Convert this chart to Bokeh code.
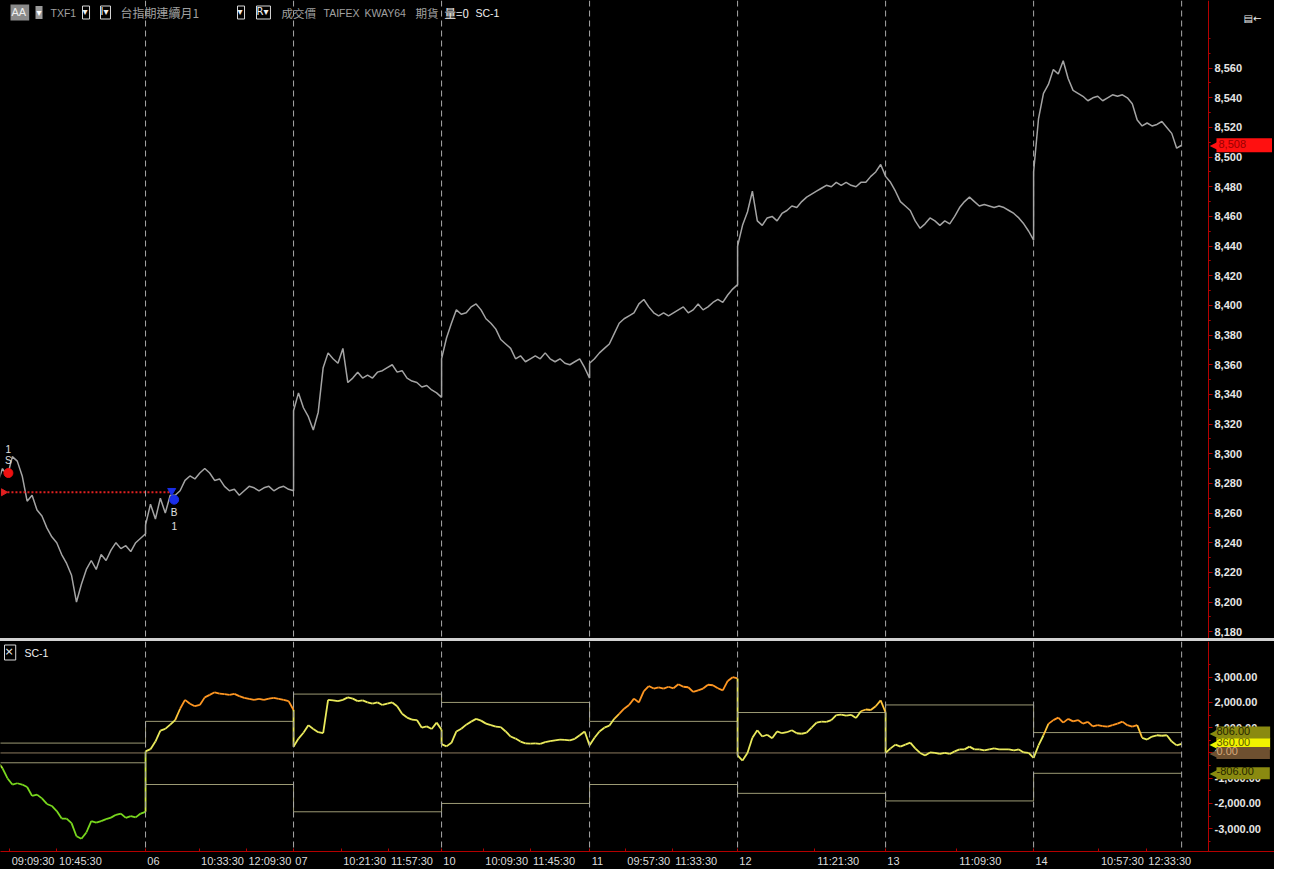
import math
from bokeh.plotting import figure
from bokeh.models import (Range1d, Span, Label, FixedTicker, NumeralTickFormatter,
                          ColumnDataSource, Spacer)
from bokeh.layouts import column
from bokeh.core.properties import value
from bokeh.embed import file_html
from bokeh.resources import INLINE

# ---------------- data ----------------
days = ["05", "06", "07", "10", "11", "12", "13", "14"]
sample_min = list(range(0, 301, 10))  # sample times, minutes after 08:45

price_05 = [8280, 8290, 8285, 8298, 8295, 8285, 8268, 8272, 8262, 8258, 8250, 8244, 8240, 8232, 8226,
            8218, 8200, 8212, 8222, 8228, 8222, 8232, 8228, 8235, 8240, 8236, 8238, 8234, 8240, 8243, 8246]
price_06 = [8252, 8266, 8256, 8270, 8260, 8272, 8272, 8275, 8282, 8285, 8283, 8287, 8290, 8287, 8282,
            8283, 8278, 8275, 8276, 8272, 8275, 8278, 8277, 8275, 8277, 8278, 8275, 8277, 8278, 8276, 8275]
price_07 = [8329, 8341, 8331, 8325, 8316, 8328, 8358, 8368, 8364, 8361, 8371, 8348, 8351, 8355, 8351,
            8353, 8351, 8355, 8356, 8358, 8360, 8355, 8356, 8351, 8349, 8348, 8345, 8346, 8343, 8341, 8338]
price_10 = [8364, 8378, 8388, 8397, 8394, 8395, 8399, 8401, 8397, 8391, 8388, 8384, 8377, 8374, 8371,
            8364, 8366, 8362, 8364, 8366, 8364, 8368, 8364, 8362, 8364, 8361, 8360, 8362, 8364, 8358, 8351]
price_11 = [8361, 8364, 8368, 8371, 8374, 8381, 8388, 8391, 8393, 8395, 8401, 8404, 8399, 8395, 8393,
            8395, 8393, 8395, 8397, 8399, 8395, 8397, 8401, 8397, 8399, 8402, 8404, 8402, 8407, 8411, 8414]
price_12 = [8440, 8454, 8463, 8477, 8457, 8454, 8459, 8460, 8457, 8462, 8464, 8467, 8466, 8470, 8473,
            8475, 8477, 8479, 8481, 8480, 8483, 8481, 8483, 8481, 8480, 8483, 8483, 8487, 8490, 8495, 8487]
price_13 = [8487, 8483, 8477, 8470, 8467, 8464, 8457, 8452, 8455, 8459, 8457, 8454, 8457, 8455, 8460,
            8466, 8470, 8473, 8470, 8467, 8468, 8467, 8466, 8467, 8466, 8464, 8462, 8459, 8455, 8450, 8444]
price_14 = [8490, 8526, 8543, 8549, 8559, 8556, 8565, 8553, 8545, 8543, 8541, 8538, 8540, 8541, 8538,
            8540, 8542, 8541, 8542, 8540, 8536, 8525, 8521, 8523, 8521, 8522, 8524, 8520, 8516, 8506, 8508]

sc_05 = [-350, -600, -1000, -1250, -1200, -1250, -1350, -1700, -1650, -1800, -2020, -2100, -2300, -2600, -2600,
         -2780, -3300, -3400, -3150, -2700, -2760, -2700, -2620, -2560, -2450, -2400, -2570, -2500, -2550, -2400, -2330]
sc_06 = [60, 150, 450, 880, 950, 1120, 1300, 1750, 2100, 1950, 1850, 1900, 2200, 2300, 2400,
         2350, 2330, 2300, 2340, 2250, 2180, 2140, 2100, 2140, 2100, 2150, 2180, 2140, 2100, 2050, 1700]
sc_07 = [250, 570, 800, 1100, 950, 820, 780, 2100, 2080, 2050, 2100, 2200, 2150, 2050, 2080,
         2000, 1950, 2000, 1900, 1950, 2000, 1850, 1550, 1400, 1320, 1300, 1000, 1050, 950, 1200, 920]
sc_10 = [350, 260, 400, 850, 960, 1120, 1240, 1350, 1280, 1160, 1100, 1040, 1020, 850, 650,
         570, 450, 380, 370, 380, 360, 430, 470, 500, 530, 520, 500, 560, 700, 850, 300]
sc_11 = [300, 600, 850, 1000, 1080, 1350, 1550, 1750, 1900, 2150, 2000, 2450, 2650, 2550, 2600,
         2550, 2620, 2560, 2720, 2620, 2600, 2420, 2480, 2550, 2700, 2680, 2560, 2480, 2850, 3000, 2950]
sc_12 = [-100, -300, 0, 600, 900, 650, 720, 580, 850, 780, 820, 900, 780, 760, 800,
         1000, 1200, 1240, 1230, 1300, 1500, 1520, 1480, 1510, 1380, 1650, 1720, 1700, 1850, 2080, 1600]
sc_13 = [0, 180, 330, 250, 330, 410, 180, 0, -100, 20, 0, -40, 0, -40, 60,
         140, 140, 250, 140, 140, 100, 140, 180, 140, 140, 140, 100, 140, 20, 0, -200]
sc_14 = [-200, 300, 700, 1150, 1300, 1400, 1200, 1350, 1250, 1300, 1160, 1230, 1050, 1100, 1060,
         1040, 1100, 1160, 1240, 1100, 1040, 1100, 600, 530, 650, 700, 680, 700, 450, 300, 360]
sc_band = [390, 1250, 2330, 2000, 1250, 1600, 1900, 806]

last_price = 8508
sc_last = 360

price_ticks = [8180, 8200, 8220, 8240, 8260, 8280, 8300, 8320, 8340, 8360,
               8380, 8400, 8420, 8440, 8460, 8480, 8500, 8520, 8540, 8560]
sc_ticks = [-3000, -2000, -1000, 0, 1000, 2000, 3000]

x_tick_labels = ["09:09:30", "10:45:30", "06", "10:33:30", "12:09:30", "07", "10:21:30", "11:57:30",
                 "10", "10:09:30", "11:45:30", "11", "09:57:30", "11:33:30", "12", "11:21:30",
                 "13", "11:09:30", "14", "10:57:30", "12:33:30"]

trade_side = ["S", "B"]
trade_qty = ["1", "1"]
trade_day = [0, 1]
trade_time = ["09:07", "09:43"]
trade_price = [8287, 8269]
open_pos_price = 8274
open_pos_from = (0, "08:57")
open_pos_to = (1, "09:35")

prices = [price_05, price_06, price_07, price_10, price_11, price_12, price_13, price_14]
scs = [sc_05, sc_06, sc_07, sc_10, sc_11, sc_12, sc_13, sc_14]

# ---------------- helpers ----------------
SESSION_START = 8 * 60 + 45
DAY_LEN = 300


def tmin(s):
    parts = [int(v) for v in s.split(":")]
    m = parts[0] * 60 + parts[1] + (parts[2] / 60 if len(parts) > 2 else 0)
    return m - SESSION_START


def to_x(day_idx, hhmm):
    return day_idx * DAY_LEN + tmin(hhmm)


W = 1274
TOP_H = 638
BOT_H = 228
FW = 1208                     # pixel position of the value axis
X0, X1 = 6.0, 2454.5          # data range spanned by the drawing area left of the axis
PX_PER_MIN = FW / (X1 - X0)
X1EXT = X0 + W / PX_PER_MIN
SC_LO, SC_HI = -3902, 4412

AXIS_RED = "#b40000"
BLACK = "#000000"

xs, px, sy, sb = [], [], [], []
for d in range(len(days)):
    for m, p, s in zip(sample_min, prices[d], scs[d]):
        xs.append(d * DAY_LEN + m)
        px.append(p)
        sy.append(s)
        sb.append(sc_band[d])


def sc_color(r):
    if r < -1.5:
        return "#79d81e"
    if r < -1.0:
        return "#a6e62e"
    if r < -0.6:
        return "#d2ee44"
    if r <= 1.0:
        return "#eaea5c"
    if r <= 1.3:
        return "#ffc43a"
    return "#ff9722"


seg_src = ColumnDataSource(dict(
    x0=xs[:-1], x1=xs[1:], y0=sy[:-1], y1=sy[1:],
    c=[sc_color(((sy[i] + sy[i + 1]) / 2) / sb[i + 1]) for i in range(len(sy) - 1)]))


def style_y(ax):
    ax.fixed_location = X1
    ax.axis_line_color = AXIS_RED
    ax.major_tick_line_color = AXIS_RED
    ax.minor_tick_line_color = AXIS_RED
    ax.major_tick_out = 4
    ax.major_tick_in = 0
    ax.minor_tick_out = 2
    ax.minor_tick_in = 0
    ax.major_label_text_color = "#e6e6e6"
    ax.major_label_text_font = "Liberation Sans"
    ax.major_label_text_font_style = "bold"
    ax.major_label_text_font_size = "11px"
    ax.major_label_standoff = 2


def slabel(fig, x, y, text, color, size="11px", font="Liberation Sans", box=None, bg=None,
           pad=(0, 2, 0, 2), y_units="screen", y_offset=0):
    kw = dict(x=x, y=y, x_units="screen", y_units=y_units, y_offset=y_offset, text=text,
              text_color=color, text_font_size=size, text_font=font, text_baseline="middle",
              text_align="left")
    if box is not None or bg is not None:
        kw.update(border_line_color=box, background_fill_color=bg if bg else BLACK, padding=pad)
    fig.add_layout(Label(**kw))


def tag(fig, yv, text, bg, fg, width_px=58, pad_v=1):
    fig.add_layout(Label(x=FW + 1, y=yv, x_units="screen", y_units="data", text="◀",
                         text_color=bg, text_font_size="12px", text_font="DejaVu Sans",
                         text_baseline="middle", text_align="left"))
    tw = sum(6.12 if ch.isdigit() else (3.7 if ch == "-" else 3.06) for ch in text)
    pr = max(2, int(width_px - tw - 4))
    fig.add_layout(Label(x=FW + 8, y=yv, x_units="screen", y_units="data", text=text,
                         text_color=fg, text_font_size="11px", text_font="Liberation Sans",
                         text_baseline="middle", text_align="left",
                         background_fill_color=bg, padding=(pad_v, pr, pad_v, 4)))


# ---------------- top pane ----------------
top = figure(width=W, height=TOP_H, x_range=Range1d(X0, X1EXT), y_range=Range1d(8175.4, 8605.6),
             y_axis_location="right", x_axis_location=None, output_backend="svg",
             toolbar_location=None, background_fill_color=BLACK, border_fill_color=BLACK,
             outline_line_color=None, min_border_left=0, min_border_right=0,
             min_border_top=0, min_border_bottom=0)
top.xgrid.grid_line_color = None
top.ygrid.grid_line_color = None

ya = top.yaxis[0]
ya.ticker = FixedTicker(ticks=price_ticks,
                        minor_ticks=[t + 10 * k for t in price_ticks for k in (-1, 0, 1, 2)])
ya.formatter = NumeralTickFormatter(format="0,0")
style_y(ya)

for k in range(1, len(days) + 1):
    top.add_layout(Span(location=k * DAY_LEN, dimension="height", line_color="#a8a8a8",
                        line_dash="6 4", line_width=1))

top.line(xs, px, line_color="#a4a4a4", line_width=1.5)

# trades
pos_x0 = to_x(*open_pos_from)
pos_x1 = to_x(*open_pos_to)
top.line([pos_x0, pos_x1], [open_pos_price, open_pos_price], line_color="#e02020",
         line_dash="2 2", line_width=2)
top.scatter([pos_x0], [open_pos_price], marker="triangle", angle=-math.pi / 2, size=7,
            color="#e02020")
tx = [to_x(d, t) for d, t in zip(trade_day, trade_time)]
top.scatter([tx[0]], [trade_price[0]], marker="circle", size=9, color="#ee1111")
top.scatter([tx[1] - 5], [trade_price[1] + 6], marker="inverted_triangle", size=8, color="#1a2ee8")
top.scatter([tx[1]], [trade_price[1]], marker="circle", size=9, color="#1a2ee8")
for i, (off_side, off_qty) in enumerate([(-12, -24), (13, 26)]):
    top.text([tx[i]], [trade_price[i]], text=[trade_side[i]], y_offset=off_side,
             text_color="#e0e0e0", text_font=value("Liberation Sans"), text_font_size="10px",
             text_align="center", text_baseline="middle")
    top.text([tx[i]], [trade_price[i]], text=[trade_qty[i]], y_offset=off_qty,
             text_color="#e0e0e0", text_font=value("Liberation Sans"), text_font_size="10px",
             text_align="center", text_baseline="middle")

HY = TOP_H - 12
GRAY = "#a0a0a0"
WHITE = "#f0f0f0"
slabel(top, 10, HY, "AA", "#eeeeee", size="11px", bg="#8a8a8a", pad=(1, 3, 1, 3))
slabel(top, 35, HY, "▾", "#ffffff", size="10px", font="DejaVu Sans", bg="#9a9a9a", pad=(1, 1, 1, 1))
slabel(top, 50, HY, "TXF1", GRAY, size="10.5px")
slabel(top, 82, HY, "▾", WHITE, size="10px", font="DejaVu Sans", box="#d8d8d8", pad=(0, 2, 0, 2))
slabel(top, 100, HY, "I▾", WHITE, size="10px", font="DejaVu Sans", box="#d8d8d8", pad=(0, 2, 0, 2))
slabel(top, 120, HY, "台指期連續月1", GRAY, size="12px", font="Noto Sans CJK TC")
slabel(top, 237, HY, "▾", WHITE, size="10px", font="DejaVu Sans", box="#d8d8d8", pad=(0, 2, 0, 2))
slabel(top, 256, HY, "R▾", WHITE, size="10px", font="DejaVu Sans", box="#d8d8d8", pad=(0, 2, 0, 2))
slabel(top, 281, HY, "成交價", GRAY, size="11.5px", font="Noto Sans CJK TC")
slabel(top, 323, HY, "TAIFEX", GRAY, size="10.5px")
slabel(top, 364, HY, "KWAY64", GRAY, size="10.5px")
slabel(top, 415, HY, "期貨", GRAY, size="11.5px", font="Noto Sans CJK TC")
slabel(top, 444, HY, "量=0", WHITE, size="11.5px", font="Noto Sans CJK TC")
slabel(top, 475, HY, "SC-1", WHITE, size="10.5px")
slabel(top, FW + 35, TOP_H - 18, "▤←", WHITE, size="10px", font="DejaVu Sans")

tag(top, last_price, f"{last_price:,}", "#ff1010", "#9a0000", pad_v=2)

# ---------------- bottom pane ----------------
bot = figure(width=W, height=BOT_H, x_range=top.x_range, y_range=Range1d(SC_LO, SC_HI),
             y_axis_location="right", output_backend="svg", toolbar_location=None,
             background_fill_color=BLACK, border_fill_color=BLACK, outline_line_color=None,
             min_border_left=0, min_border_right=0, min_border_top=0, min_border_bottom=18)
bot.xgrid.grid_line_color = None
bot.ygrid.grid_line_color = None

yb = bot.yaxis[0]
yb.ticker = FixedTicker(ticks=sc_ticks,
                        minor_ticks=[t + 500 * k for t in sc_ticks for k in (-1, 0, 1)])
yb.formatter = NumeralTickFormatter(format="0,0.00")
style_y(yb)

# x ticks derived from label data
tick_pos = []
cur_day = 0
for lab in x_tick_labels:
    if ":" in lab:
        tick_pos.append(cur_day * DAY_LEN + tmin(lab))
    else:
        cur_day = days.index(lab)
        tick_pos.append(cur_day * DAY_LEN)
centers = []
for lab, tp in zip(x_tick_labels, tick_pos):
    w = sum(6.12 if ch.isdigit() else 3.06 for ch in lab)
    centers.append(int(round(tp + (2 + w / 2) / PX_PER_MIN)))
xa = bot.xaxis[0]
xa.ticker = FixedTicker(ticks=centers, minor_ticks=tick_pos)
xa.major_label_overrides = {c: lab for c, lab in zip(centers, x_tick_labels)}
xa.major_tick_line_color = None
xa.major_tick_out = 0
xa.major_tick_in = 0
xa.minor_tick_line_color = AXIS_RED
xa.minor_tick_in = 3
xa.minor_tick_out = 0
xa.axis_line_color = AXIS_RED
xa.major_label_text_color = "#dcdcdc"
xa.major_label_text_font = "Liberation Sans"
xa.major_label_text_font_size = "11px"
xa.major_label_standoff = 3

for k in range(1, len(days) + 1):
    bot.add_layout(Span(location=k * DAY_LEN, dimension="height", line_color="#a8a8a8",
                        line_dash="6 4", line_width=1))

bx = [d * DAY_LEN for d in range(len(days) + 1)]
bot.step(bx, sc_band + [sc_band[-1]], mode="after", line_color="#9c9a74", line_width=1)
bot.step(bx, [-b for b in sc_band] + [-sc_band[-1]], mode="after", line_color="#9c9a74",
         line_width=1)
bot.line([bx[0], bx[-1]], [0, 0], line_color="#8c7a5e", line_width=1)

bot.segment(x0="x0", y0="y0", x1="x1", y1="y1", line_color="c", line_width=1.8, source=seg_src)

slabel(bot, 4, SC_HI, "×", WHITE, size="11px", font="DejaVu Sans", box="#d8d8d8",
       pad=(0, 2, 0, 2), y_units="data", y_offset=-11)
slabel(bot, 24, SC_HI, "SC-1", WHITE, size="10.5px", y_units="data", y_offset=-11)

tag(bot, sc_last, f"{sc_last:,.2f}", "#f2f200", "#5a5a00", pad_v=0)
tag(bot, sc_band[-1], f"{sc_band[-1]:,.2f}", "#8a8a10", "#262600", pad_v=0)
tag(bot, 0, "0.00", "#6e5030", "#d8a878", pad_v=0)
tag(bot, -sc_band[-1], f"{-sc_band[-1]:,.2f}", "#8a8a10", "#262600", pad_v=0)

sep = Spacer(width=W, height=3, margin=0, styles={"background-color": "#d2d2d2"})
layout = column(top, sep, bot, spacing=0, styles={"background-color": "black"})

open("out.html", "w").write(file_html(layout, INLINE))
